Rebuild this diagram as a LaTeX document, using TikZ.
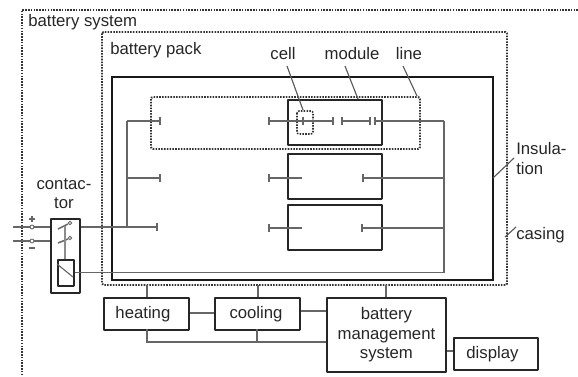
\documentclass[tikz,border=0pt]{standalone}
\usepackage{fontspec}
\setmainfont{Liberation Sans}
\usetikzlibrary{positioning}
\tikzset{
  box/.style={draw=black!85,line width=1.3pt,rounded corners=0.3pt,inner sep=0pt},
  dotbox/.style={draw=black!80,line width=1.4pt,dash pattern=on 1.1pt off 0.9pt},
  wire/.style={draw=black!60,line width=0.8pt},
  leader/.style={draw=black!65,line width=0.8pt},
  tick/.style={draw=black!60,line width=1pt},
  lbl/.style={inner sep=0pt,font=\fontsize{11.9pt}{13.9pt}\selectfont,text=black!85}
}

\begin{document}
\begin{tikzpicture}[x=0.025cm,y=-0.025cm]
\useasboundingbox (0,0) rectangle (578,376);
% enclosures
\draw[dotbox] (578,10) -- (22,10) -- (22,376);
\draw[dotbox,rounded corners=1pt] (102,32) rectangle (507,285);
\draw[draw=black!90,line width=1.5pt] (112,77) rectangle (493,280);
\draw[dotbox,rounded corners=1.5pt] (151,97) rectangle (420,149);
\node[box,minimum width=2.35cm,minimum height=1.125cm,anchor=north west] (moduleA) at (287,99) {};
\node[box,minimum width=2.35cm,minimum height=1.125cm,anchor=north west] (moduleB) at (287,153) {};
\node[box,minimum width=2.35cm,minimum height=1.125cm,anchor=north west] (moduleC) at (287,204) {};
\draw[dotbox,line width=1.1pt,rounded corners=1.5pt] (297,111) rectangle (313,134);
% lower row
\node[box,minimum width=2.125cm,minimum height=0.8cm,anchor=north west,lbl,draw=black!85] (heating) at (103,297) {\kern-5pt heating};
\node[box,minimum width=2.125cm,minimum height=0.8cm,anchor=north west,lbl,draw=black!85] (cooling) at (214,297) {\kern-2pt cooling};
\node[box,minimum width=2.975cm,minimum height=1.85cm,anchor=north west,lbl,align=center,draw=black!85] (bms) at (326,297) {battery\\management\\system};
\node[box,minimum width=2.1cm,minimum height=0.8cm,anchor=north west,lbl,draw=black!85] (display) at (453,337) {\kern-5pt\raisebox{-1.5pt}{display}};
% contactor
\node[box,minimum width=0.725cm,minimum height=1.85cm,anchor=north west] (contactor) at (50,218) {};
\node[box,minimum width=0.4cm,minimum height=0.65cm,anchor=north west] (relay) at (57,259) {};
\draw[wire] (relay.north west) ++(0,5) -- ++(16,13);
% wires to the strings
\coordinate (busL) at (127,121);
\coordinate (busR) at (444,121);
\draw[wire] (busL) -- (127,227);
\draw[wire] (relay.east) -| (busR);
\draw[wire] (busL) -- (160,121);
\draw[wire] (127,178) -- (160,178);
\draw[wire] (contactor.east |- 0,227) -- (157,227);
\draw[wire] (269,121) -- (333,121);
\draw[wire] (342,121) -- (370,121);
\draw[wire] (375,121) -- (busR);
\draw[wire] (269,178) -- (302,178);
\draw[wire] (363,178) -- (444,178);
\draw[wire] (269,228) -- (302,228);
\draw[wire] (362,228) -- (444,228);
% cell ticks
\foreach \x/\y in {160/121,269/121,303/121,333/121,342/121,370/121,375/121,160/178,269/178,363/178,157/227,269/228,362/228}
  \draw[tick] (\x,\y-4) -- (\x,\y+4);
% contacts and poles
\draw[wire] (13,227) -- (contactor.west |- 0,227);
\draw[wire] (13,241) -- (contactor.west |- 0,241);
\foreach \y in {227,241}
  \draw[wire,line width=0.6pt,fill=white] (32,\y) circle [radius=2];
\draw[tick] (29,219) -- (35,219);
\draw[tick] (32,216) -- (32,222);
\draw[tick] (29,248) -- (35,248);
\draw[wire,line width=1.1pt] (58,229) -- (68,224);
\draw[wire,line width=1.1pt] (58,243) -- (68,239);
\draw[wire,line width=0.6pt,fill=white] (70,223) circle [radius=1.7];
\draw[wire,line width=0.6pt,fill=white] (70,238) circle [radius=1.7];
\draw[wire,black!45] (65,226) -- (65,259);
% lower row links
\draw[wire] (147,285) -- (147,297);
\draw[wire] (258,285) -- (258,297);
\draw[wire] (386,285) -- (386,297);
\draw[wire] (heating.east |- 0,313) -- (cooling.west |- 0,313);
\draw[wire] (cooling.east |- 0,311) -- (bms.west |- 0,311);
\draw[wire] (147,329) -- (147,342) -- (bms.west |- 0,342);
\draw[wire] (257,329) -- (257,342);
\draw[wire] (bms.east |- 0,351) -- (display.west |- 0,351);
% labels
\node[lbl,anchor=west] (labSystem) at (28,22) {battery system};
\node[lbl,anchor=west] (labPack) at (110,50) {battery pack};
\node[lbl] (labCell) at (283,54) {cell};
\node[lbl] (labModule) at (352,54) {module};
\node[lbl] (labLine) at (409,54) {line};
\node[lbl,align=center] (labContactor) at (64,193.5) {contac-\\tor};
\node[lbl,align=left,anchor=west] (labInsulation) at (516,158.5) {Insula-\\tion};
\node[lbl,anchor=west] (labCasing) at (516,235) {casing};
% leaders
\draw[leader] (287,66) -- (303,110);
\draw[leader] (345,66) -- (358,99);
\draw[leader] (403,66) -- (417,96);
\draw[leader] (493,178) -- (514,158);
\draw[leader] (505,237) -- (516,227);
\end{tikzpicture}
\end{document}
